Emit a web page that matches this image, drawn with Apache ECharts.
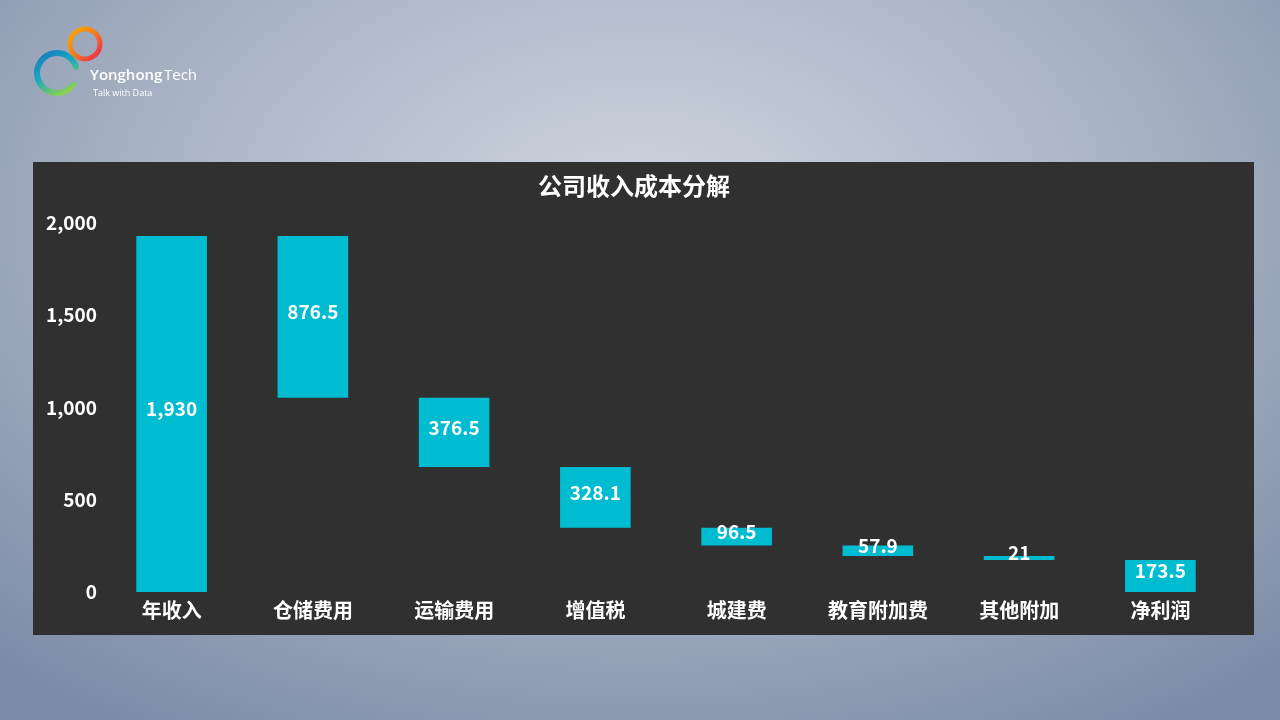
<!DOCTYPE html>
<html>
<head>
<meta charset="utf-8">
<script src="https://cdn.jsdelivr.net/npm/echarts@6/dist/echarts.min.js"></script>
<style>
html,body{margin:0;padding:0;width:1280px;height:720px;overflow:hidden;}
body{background:radial-gradient(ellipse 75% 85% at 50% 30%, #cfd5df 0%, #aeb8c8 45%, #7c8aa6 100%);}
#chart{width:1280px;height:720px;}
</style>
</head>
<body>
<div id="chart"></div>
<script>
const titleText = '公司收入成本分解';
const categories = ['年收入','仓储费用','运输费用','增值税','城建费','教育附加费','其他附加','净利润'];
const values = [1930, 876.5, 376.5, 328.1, 96.5, 57.9, 21, 173.5];
const yTicks = [0, 500, 1000, 1500, 2000];

// waterfall helper (base) computed from values
const base = [];
let running = values[0];
values.forEach((v, i) => {
  if (i === 0 || i === values.length - 1) { base.push(0); return; }
  running -= v;
  base.push(running);
});

const FONT = '"Noto Sans CJK SC", "Noto Sans", sans-serif';
const chart = echarts.init(document.getElementById('chart'));
chart.setOption({
  backgroundColor: 'transparent',
  animation: false,
  graphic: [
    { type: 'rect', z: -10, shape: { x: 33, y: 162, width: 1221, height: 473 }, style: { fill: '#303030' } },
    // logo small ring
    { type: 'arc', shape: { cx: 85, cy: 44, r: 15, startAngle: 0, endAngle: Math.PI * 2 },
      style: { fill: 'none', lineWidth: 5,
        stroke: { type: 'linear', x: 0, y: 0, x2: 1, y2: 1, colorStops: [{ offset: 0, color: '#f7b500' }, { offset: 0.5, color: '#f47a1f' }, { offset: 1, color: '#e8185a' }] } } },
    // logo big ring
    { type: 'arc', shape: { cx: 57, cy: 73, r: 20, startAngle: Math.PI * 0.2, endAngle: Math.PI * 1.9, clockwise: true },
      style: { fill: 'none', lineWidth: 6, lineCap: 'round',
        stroke: { type: 'linear', x: 0, y: 0, x2: 0.6, y2: 1, colorStops: [{ offset: 0, color: '#1a6fc0' }, { offset: 0.5, color: '#17a8c0' }, { offset: 1, color: '#8fd14f' }] } } },
    { type: 'text', x: 90, y: 68, style: { text: 'Yonghong', fill: '#ffffff', font: '600 15px "Open Sans", sans-serif' } },
    { type: 'text', x: 164, y: 68, style: { text: 'Tech', fill: '#ffffff', font: '400 15px "Open Sans", sans-serif' } },
    { type: 'text', x: 93, y: 89, style: { text: 'Talk with Data', fill: '#ffffff', font: '9px "Open Sans", sans-serif' } }
  ],
  title: {
    text: titleText,
    left: 629, top: 169, textAlign: 'center',
    textStyle: { color: '#ffffff', fontSize: 24, fontWeight: 'bold', fontFamily: FONT }
  },
  grid: { left: 101, right: 49, top: 223, bottom: 128, containLabel: false },
  xAxis: {
    type: 'category',
    data: categories,
    axisLine: { show: false },
    axisTick: { show: false },
    axisLabel: { color: '#ffffff', fontSize: 20, fontWeight: 'bold', fontFamily: FONT, margin: 8 }
  },
  yAxis: {
    type: 'value',
    min: 0, max: 2000, interval: 500,
    splitLine: { show: false },
    axisLine: { show: false },
    axisTick: { show: false },
    axisLabel: {
      color: '#ffffff', fontSize: 19, fontWeight: 'bold', fontFamily: FONT, margin: 4,
      formatter: v => yTicks.includes(v) ? v.toLocaleString('en-US') : ''
    }
  },
  series: [
    { type: 'bar', stack: 'w', data: base, barWidth: '50%', itemStyle: { color: 'transparent' }, silent: true },
    { type: 'bar', stack: 'w', data: values, barWidth: '50%',
      itemStyle: { color: '#00bcd0' },
      label: { show: true, position: 'inside', offset: [0, -5], color: '#ffffff', fontSize: 19, fontWeight: 'bold', fontFamily: FONT,
        formatter: p => p.value.toLocaleString('en-US') } }
  ]
});
</script>
</body>
</html>
